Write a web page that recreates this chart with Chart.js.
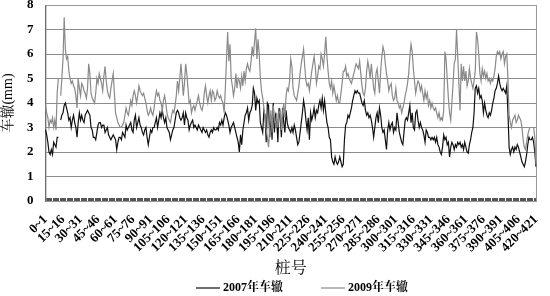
<!DOCTYPE html>
<html>
<head>
<meta charset="utf-8">
<script src="https://cdn.jsdelivr.net/npm/chart.js@4.4.1/dist/chart.umd.min.js"></script>
<style>
  html, body { margin: 0; padding: 0; background: #fff; }
  #wrap { width: 550px; height: 296px; }
</style>
</head>
<body>
<div id="wrap"><canvas id="rutChart" width="550" height="296"></canvas></div>
<script>
// 桩号: 0~1 ... 420~421, label every 15
const stationCount = 421;
const labelStep = 15;
const stations = [];
for (let i = 0; i < stationCount; i++) stations.push(i + '~' + (i + 1));

const seriesNames = ['2007年车辙', '2009年车辙'];

// 2007年车辙 (mm)
const rut2007 = [
  2.9, 2.7, 2.4, 2.0, 1.9, 2.1, 1.9, 2.4, 2.3, 2.2,
  2.6, 2.6, null, 3.3, 3.5, 3.6, 3.9, 4.0, 3.8, 3.6,
  3.3, 3.4, 3.0, 3.3, 3.5, 3.2, 3.0, 2.6, 3.2, 3.6,
  3.3, 3.5, 3.3, 3.2, 3.5, 3.6, 3.7, 3.6, 3.5, 3.0,
  2.9, 2.6, 2.6, 2.5, 2.8, 3.1, 3.2, 3.2, 3.0, 3.1,
  3.1, 2.8, 2.9, 3.0, 2.7, 2.6, 2.5, 2.6, 2.7, 2.6,
  2.5, 2.1, 2.4, 2.6, 2.6, 2.5, 2.8, 2.7, 2.6, 3.1,
  2.9, 3.0, 3.1, 3.2, 2.9, 2.8, 3.3, 3.5, 3.0, 3.2,
  3.4, 3.1, 3.0, 2.8, 2.7, 2.9, 3.0, 2.6, 2.3, 2.6,
  2.9, 2.8, 3.0, 3.0, 3.2, 3.4, 3.0, 3.3, 3.6, 3.4,
  3.7, 3.4, 3.2, 3.4, 3.0, 2.9, 2.8, 2.5, 2.7, 2.9,
  3.0, 3.3, 3.6, 3.7, 3.6, 3.4, 3.3, 3.4, 3.6, 3.1,
  3.6, 3.4, 3.3, 2.9, 3.1, 3.2, 3.3, 3.0, 3.1, 3.0,
  2.9, 3.1, 3.0, 2.9, 2.8, 3.0, 2.9, 2.8, 2.9, 2.7,
  2.6, 2.8, 2.9, 2.8, 3.0, 2.9, 2.9, 3.0, 2.9, 3.2,
  3.1, 3.3, 3.1, 3.4, 3.6, 3.5, 3.3, 3.1, 2.8, 3.0,
  3.1, 3.2, 3.0, 2.8, 2.6, 2.4, 2.0, 2.7, 2.3, 2.9,
  3.2, 3.5, 3.6, 3.8, 3.3, 3.6, 3.7, 3.9, 4.6, 4.4,
  3.7, 4.2, 4.0, 4.1, 3.2, 3.0, 2.8, 3.7, 3.5, 2.4,
  4.0, 3.9, 2.6, 3.5, 2.5, 4.0, 2.8, 3.5, 3.3, 2.4,
  3.8, 3.4, 2.6, 3.8, 3.2, 2.8, 3.7, 3.2, 3.0, 2.9,
  2.8, 3.0, 2.8, 3.1, 2.9, 2.6, 2.3, 2.4, 2.8, 3.2,
  3.6, 4.1, 3.8, 3.3, 2.9, 3.4, 2.5, 3.6, 3.3, 3.5,
  3.8, 3.4, 3.7, 3.6, 3.9, 4.1, 3.8, 4.2, 3.7, 4.1,
  3.6, 3.2, 3.0, 2.6, 2.5, 1.8, 1.6, 1.5, 1.8, 1.6,
  1.5, 1.6, 1.8, 1.6, 1.4, 1.5, 2.5, 3.1, 3.2, 3.5,
  3.4, 3.6, 3.8, 4.1, 4.3, 4.5, 4.4, 4.5, 4.4, 4.4,
  4.2, 4.0, 3.9, 4.1, 3.7, 3.5, 3.6, 3.4, 3.5, 3.3,
  3.0, 2.6, 3.0, 3.4, 3.6, 3.2, 3.8, 3.5, 3.0, 2.8,
  2.9, 2.5, 2.1, 2.9, 3.2, 2.9, 3.1, 3.2, 2.8, 3.0,
  2.9, 3.6, 3.2, 2.8, 2.6, 2.4, 2.3, 2.8, 3.3, 3.4,
  3.3, 3.6, 3.9, 3.2, 3.6, 3.0, 2.9, 3.6, 3.7, 3.3,
  3.0, 3.2, 3.0, 2.9, 2.7, 2.4, 2.9, 2.8, 2.6, 2.6,
  2.5, 2.6, 2.5, 2.6, 2.4, 2.6, 2.3, 2.2, 2.0, 1.9,
  2.2, 2.7, 2.5, 2.6, 2.3, 2.4, 1.8, 2.2, 2.4, 2.3,
  2.1, 2.3, 2.2, 2.4, 2.3, 2.4, 2.2, 2.3, 2.1, 2.4,
  2.2, 2.0, 1.95, 2.3, 2.5, 2.8, 3.0, 3.6, 4.6, 4.7,
  4.4, 4.6, 4.2, 4.3, 4.1, 3.6, 4.0, 3.7, 3.5, 3.4,
  3.6, 3.5, 3.7, 4.0, 4.2, 4.5, 4.6, 4.8, 5.1, 4.8,
  4.6, 4.5, 4.6, 4.5, 4.4, 4.7, 3.6, 2.2, 1.9, 2.1,
  2.2, 2.0, 2.2, 2.1, 2.3, 2.2, 2.0, 1.8, 1.6, 1.5,
  1.4, 1.6, 1.9, 2.3, 2.6, 2.5, 2.5, 2.6, 2.4, 2.0,
  1.4
];

// 2009年车辙 (mm)
const rut2009 = [
  3.9, 3.6, 3.4, 3.0, 3.3, 3.2, 3.4, 3.0, 3.3, 2.9,
  4.4, 5.0, null, 4.3, 5.0, 5.8, 7.5, 6.2, 5.8, 5.9,
  5.3, 5.0, 4.8, 4.9, 4.7, 4.6, 4.3, 3.8, 5.0, 4.6,
  4.3, 4.8, 4.7, 4.5, 4.4, 4.2, 4.6, 5.6, 5.2, 4.4,
  4.2, 4.1, 4.0, 4.4, 5.0, 4.8, 5.2, 5.0, 4.8, 4.5,
  5.1, 5.5, 4.9, 4.5, 4.3, 4.2, 4.6, 4.9, 5.2, 4.4,
  3.6, 3.4, 3.2, 3.1, 3.0, 3.0, 3.1, 3.2, 3.5, 3.8,
  3.6, 3.5, 3.8, 4.1, 3.9, 4.3, 4.5, 4.3, 4.0, 4.3,
  4.7, 4.5, 4.4, 4.3, 4.4, 4.2, 4.0, 3.7, 3.5, 3.6,
  3.8, 3.6, 3.5, 3.8, 4.2, 4.5, 4.3, 4.4, 4.1, 4.0,
  3.7, 4.1, 4.3, 4.0, 3.6, 3.4, 3.3, 3.2, 3.5, 3.7,
  3.6, 3.9, 4.3, 4.9, 4.5, 5.0, 5.6, 5.0, 4.3, 4.8,
  5.6, 5.2, 4.6, 4.0, 4.1, 3.6, 3.8, 3.9, 3.7, 3.9,
  4.1, 4.3, 4.0, 3.8, 3.7, 3.9, 4.4, 4.7, 4.3, 4.0,
  4.3, 4.5, 4.1, 4.5, 4.4, 4.1, 4.2, 4.5, 4.3, 4.2,
  4.3, 4.1, 4.0, 3.6, 4.6, 5.8, 6.9, 5.7, 6.4, 5.0,
  4.7, 4.3, 4.6, 5.2, 4.6, 5.0, 4.9, 4.6, 5.1, 4.7,
  5.3, 4.9, 5.4, 5.6, 5.4, 5.3, 5.7, 6.3, 5.9, 6.5,
  7.05, 5.8, 6.6, 6.0, 5.0, 4.5, 4.2, 3.8, 3.4, 2.9,
  2.6, 2.2, 3.0, 3.7, 2.8, 3.9, 3.3, 3.1, 3.6, 3.0,
  3.6, 3.7, 2.9, 3.6, 4.0, 3.4, 4.3, 4.6, 4.5, 4.9,
  5.8, 5.5, 4.6, 4.3, 4.2, 4.1, 4.4, 4.7, 5.2, 5.6,
  5.9, 6.2, 5.5, 4.9, 4.7, 4.8, 4.5, 4.9, 5.3, 5.6,
  5.9, 5.5, 4.8, 5.1, 5.5, 5.4, 6.0, 5.8, 5.5, 6.0,
  6.7, 5.9, 5.3, 4.8, 4.6, 4.9, 4.4, 4.7, 4.4, 4.1,
  4.3, 4.0, 4.0, 4.4, 4.8, 5.3, 5.3, 5.5, 5.1, 5.2,
  5.0, 4.9, 4.8, 5.0, 5.2, 5.4, 5.6, 5.5, 5.4, 5.7,
  5.2, 4.7, 4.4, 4.3, 4.6, 5.3, 5.7, 5.4, 5.0, 5.6,
  5.1, 4.6, 4.4, 5.2, 5.4, 4.9, 4.4, 5.3, 5.9, 6.3,
  6.1, 5.6, 5.2, 4.9, 4.5, 4.7, 4.8, 4.3, 4.1, 4.2,
  4.6, 4.1, 4.0, 3.8, 3.9, 3.6, 3.8, 4.0, 4.3, 4.5,
  4.8, 5.2, 5.9, 6.4, 6.1, 5.4, 4.9, 4.4, 4.7, 4.9,
  4.8, 4.5, 4.7, 4.4, 4.1, 4.5, 4.2, 4.4, 3.9, 4.1,
  3.8, 4.0, 3.8, 3.7, 3.8, 3.6, 3.4, 3.6, 3.3, 3.4,
  3.3, 3.7, 6.1, 5.8, 5.0, 4.2, 3.6, 3.3, 4.0, 4.8,
  5.6, 5.8, 7.0, 5.9, 4.8, 3.7, 5.6, 4.9, 5.5, 4.9,
  5.3, 4.7, 4.9, 5.4, 5.0, 4.8, 4.6, 4.9, 5.3, 6.9,
  6.6, 6.0, 5.2, 4.9, 5.4, 5.1, 5.3, 5.0, 5.2, 4.9,
  5.0, 4.8, 5.0, 4.9, 5.1, 5.4, 5.9, 6.1, 6.0, 6.1,
  5.8, 6.0, 6.1, 5.6, 5.9, 6.0, 5.0, 3.5, 3.2, 3.0,
  3.3, 3.4, 3.5, 3.2, 3.3, 3.5, 3.4, 3.3, 3.0, 2.5,
  2.2, 2.1, 2.4, 2.7, 2.9, 3.0, 3.0, 3.0, 3.0, 2.6,
  1.5
];

const serif = "'Liberation Serif', 'Noto Serif CJK SC', 'Noto Sans CJK SC', serif";

// inner tick marks on the x axis + plot frame + legend under the axis title
const decorPlugin = {
    id: 'decor',
    beforeDatasetsDraw(chart) {
        const c = chart.ctx, a = chart.chartArea, xs = chart.scales.x;
        c.save();
        c.strokeStyle = '#555';
        c.lineWidth = 1;
        c.beginPath();
        for (let i = 0; i < stations.length; i++) {
            const x = Math.round(xs.getPixelForValue(i)) + 0.5;
            c.moveTo(x, a.bottom - 3);
            c.lineTo(x, a.bottom);
        }
        c.stroke();
        c.strokeStyle = '#999';
        c.strokeRect(a.left + 0.5, a.top + 0.5, a.right - a.left, a.bottom - a.top);
        c.restore();
    },
    afterDraw(chart) {
        const c = chart.ctx;
        c.save();
        c.font = 'bold 12px ' + serif;
        c.textBaseline = 'middle';
        const lineLen = 24, gap = 3, between = 38;
        const ds = chart.data.datasets;
        let total = 0;
        ds.forEach((d, i) => { total += lineLen + gap + c.measureText(d.label).width + (i ? between : 0); });
        let x = 302 - total / 2;
        const y = 288;
        ds.forEach((d, i) => {
            if (i) x += between;
            c.strokeStyle = d.borderColor;
            c.lineWidth = 1.2;
            c.beginPath();
            c.moveTo(x, y);
            c.lineTo(x + lineLen, y);
            c.stroke();
            x += lineLen + gap;
            c.fillStyle = '#000';
            c.fillText(d.label, x, y);
            x += c.measureText(d.label).width;
        });
        c.restore();
    }
};

new Chart(document.getElementById('rutChart'), {
    type: 'line',
    data: {
        labels: stations,
        datasets: [
            {
                label: seriesNames[0],
                data: rut2007,
                borderColor: '#111111',
                borderWidth: 1.2,
                pointRadius: 0,
                tension: 0,
                spanGaps: false,
                order: 1
            },
            {
                label: seriesNames[1],
                data: rut2009,
                borderColor: '#8a8a8a',
                borderWidth: 1.2,
                pointRadius: 0,
                tension: 0,
                spanGaps: false,
                order: 0
            }
        ]
    },
    options: {
        responsive: false,
        animation: false,
        layout: { padding: { top: 0, right: 4, left: 0, bottom: 0 } },
        plugins: {
            legend: { display: false },
            tooltip: { enabled: false }
        },
        scales: {
            x: {
                grid: { display: false },
                border: { display: true, color: '#444' },
                afterFit: function (scale) { scale.height = 95; },
                ticks: {
                    autoSkip: false,
                    minRotation: 45,
                    maxRotation: 45,
                    padding: 3,
                    color: '#000',
                    font: { family: serif, weight: 'bold', size: 13 },
                    callback: function (value, index) {
                        return index % labelStep === 0 ? this.getLabelForValue(value) : '';
                    }
                },
                title: {
                    display: true,
                    text: '桩号',
                    color: '#000',
                    font: { family: serif, size: 16 },
                    padding: { top: 0, bottom: 18 }
                }
            },
            y: {
                min: 0,
                max: 8,
                grid: { color: '#8c8c8c', drawTicks: false },
                border: { display: true, color: '#444' },
                afterFit: function (scale) { scale.paddingTop = 5; },
                ticks: {
                    stepSize: 1,
                    padding: 12,
                    color: '#000',
                    font: { family: serif, weight: 'bold', size: 13 }
                },
                title: {
                    display: true,
                    text: '车辙(mm)',
                    color: '#000',
                    font: { family: serif, size: 14, lineHeight: 1.0 },
                    padding: { top: 1, bottom: 0 }
                }
            }
        }
    },
    plugins: [decorPlugin]
});
</script>
</body>
</html>
